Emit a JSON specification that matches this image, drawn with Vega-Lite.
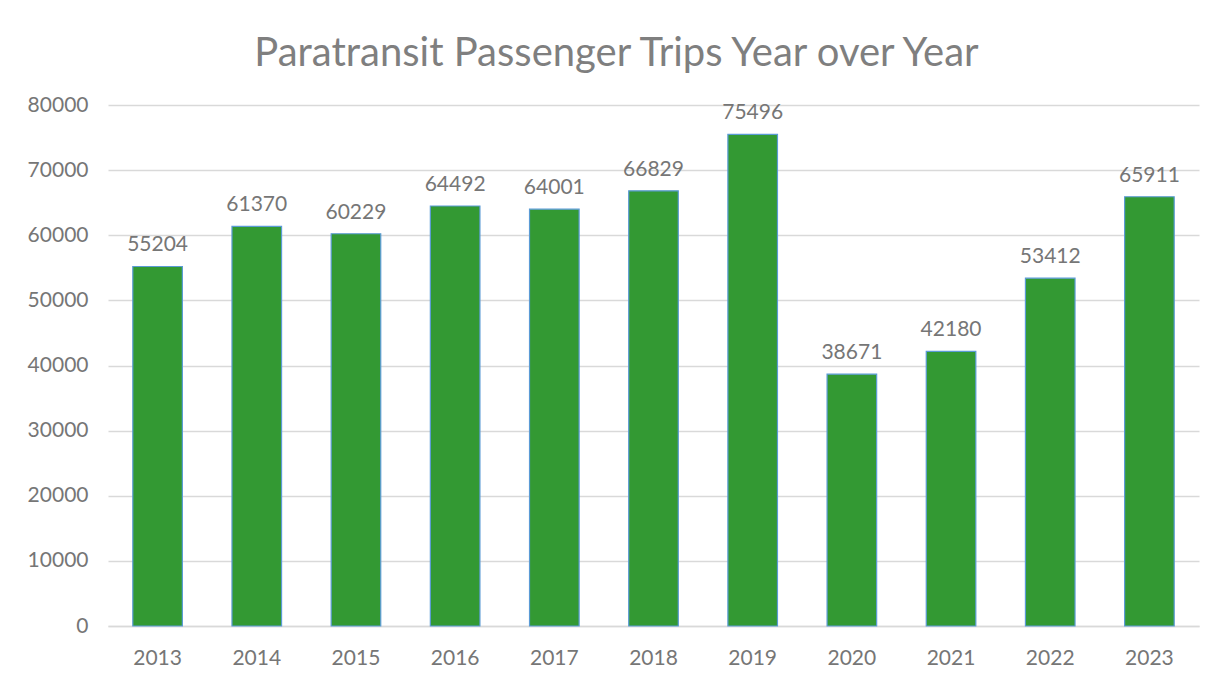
{
  "$schema": "https://vega.github.io/schema/vega-lite/v6.json",
  "width": 1091,
  "height": 521,
  "autosize": "none",
  "padding": {"left": 108, "top": 105, "right": 22, "bottom": 56},
  "background": "white",
  "title": {
    "text": "Paratransit Passenger Trips Year over Year",
    "font": "Lato",
    "fontSize": 40,
    "fontWeight": "normal",
    "color": "#7f7f7f",
    "anchor": "middle",
    "offset": 20,
    "dx": -37
  },
  "data": {
    "values": [
      {"year": "2013", "trips": 55204},
      {"year": "2014", "trips": 61370},
      {"year": "2015", "trips": 60229},
      {"year": "2016", "trips": 64492},
      {"year": "2017", "trips": 64001},
      {"year": "2018", "trips": 66829},
      {"year": "2019", "trips": 75496},
      {"year": "2020", "trips": 38671},
      {"year": "2021", "trips": 42180},
      {"year": "2022", "trips": 53412},
      {"year": "2023", "trips": 65911}
    ]
  },
  "encoding": {
    "x": {
      "field": "year",
      "type": "nominal",
      "sort": null,
      "scale": {"paddingInner": 0.5, "paddingOuter": 0.25},
      "axis": {
        "title": null,
        "labelAngle": 0,
        "labelFont": "Lato",
        "labelFontSize": 21,
        "labelColor": "#767676",
        "labelPadding": 21,
        "ticks": false,
        "domain": true,
        "domainColor": "#d9d9d9",
        "domainWidth": 1.5
      }
    },
    "y": {
      "field": "trips",
      "type": "quantitative",
      "scale": {"domain": [0, 80000], "nice": false},
      "axis": {
        "title": null,
        "values": [0, 10000, 20000, 30000, 40000, 50000, 60000, 70000, 80000],
        "format": "d",
        "labelFont": "Lato",
        "labelFontSize": 21,
        "labelColor": "#767676",
        "labelPadding": 20,
        "ticks": false,
        "domain": false,
        "grid": true,
        "gridColor": "#d9d9d9",
        "gridWidth": 1.5
      }
    }
  },
  "layer": [
    {
      "mark": {"type": "bar", "color": "#339933", "stroke": "#5b9bd5", "strokeWidth": 1.2}
    },
    {
      "mark": {"type": "text", "baseline": "bottom", "dy": -11, "font": "Lato", "fontSize": 21, "color": "#767676"},
      "encoding": {"text": {"field": "trips", "type": "quantitative", "format": "d"}}
    }
  ],
  "config": {"view": {"stroke": null}}
}
